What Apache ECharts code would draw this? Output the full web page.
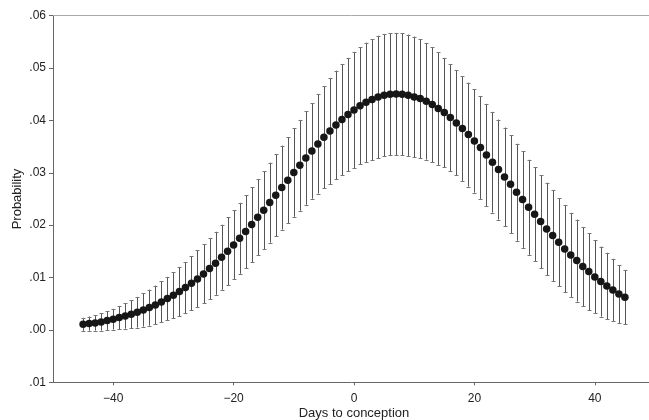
<!DOCTYPE html>
<html>
<head>
<meta charset="utf-8">
<script src="https://cdn.jsdelivr.net/npm/echarts@6/dist/echarts.min.js"></script>
<style>
  html, body { margin: 0; padding: 0; background: #fff; }
  #chart { width: 649px; height: 420px; }
</style>
</head>
<body>
<div id="chart"></div>
<script>
// Days relative to conception (-45 .. 45)
const days = [
  -45,-44,-43,-42,-41,-40,-39,-38,-37,-36,-35,-34,-33,-32,-31,-30,
  -29,-28,-27,-26,-25,-24,-23,-22,-21,-20,-19,-18,-17,-16,-15,-14,
  -13,-12,-11,-10,-9,-8,-7,-6,-5,-4,-3,-2,-1,0,1,2,3,4,5,6,7,8,9,10,
  11,12,13,14,15,16,17,18,19,20,21,22,23,24,25,26,27,28,29,30,31,32,
  33,34,35,36,37,38,39,40,41,42,43,44,45
];

// Estimated probability for each day
const probability = [
  .00108,.00121,.00134,.00153,.00178,.00204,.00235,.00267,.00299,.00337,
  .00382,.00426,.00477,.00535,.00598,.00662,.00732,.00808,.00891,.00974,
  .01069,.01171,.01273,.01388,.01502,.01623,.01750,.01878,.02011,.02151,
  .02285,.02431,.02571,.02718,.02858,.03004,.03144,.03284,.03418,.03552,
  .03679,.03800,.03914,.04016,.04112,.04201,.04280,.04347,.04398,.04449,
  .04481,.04500,.04506,.04500,.04481,.04449,.04417,.04366,.04303,.04226,
  .04150,.04054,.03953,.03844,.03730,.03609,.03482,.03342,.03202,.03062,
  .02922,.02782,.02629,.02489,.02342,.02209,.02069,.01929,.01801,.01674,
  .01547,.01432,.01324,.01209,.01114,.01012,.00923,.00840,.00764,.00687,
  .00624
];

// Lower bound of the interval for each day
const lower = [
  -.00016,-.00013,-.00012,-.00012,.00000,.00007,.00012,.00025,.00032,.00044,
  .00064,.00082,.00108,.00144,.00184,.00220,.00261,.00318,.00372,.00430,
  .00506,.00585,.00672,.00767,.00856,.00964,.01072,.01181,.01298,.01425,
  .01543,.01667,.01788,.01916,.02037,.02161,.02278,.02390,.02505,.02604,
  .02702,.02788,.02877,.02953,.03030,.03093,.03160,.03208,.03246,.03281,
  .03313,.03335,.03341,.03338,.03323,.03297,.03281,.03252,.03205,.03150,
  .03106,.03032,.02951,.02845,.02737,.02622,.02502,.02368,.02241,.02107,
  .01980,.01846,.01703,.01569,.01435,.01308,.01181,.01047,.00935,.00834,
  .00716,.00630,.00541,.00452,.00379,.00315,.00255,.00207,.00169,.00133,
  .00108
];

// Upper bound of the interval for each day
const upper = [
  .00232,.00255,.00280,.00318,.00356,.00401,.00458,.00509,.00566,.00630,
  .00700,.00770,.00846,.00926,.01012,.01104,.01203,.01298,.01410,.01518,
  .01632,.01757,.01874,.02009,.02148,.02282,.02428,.02575,.02724,.02877,
  .03027,.03195,.03354,.03520,.03679,.03847,.04010,.04178,.04331,.04500,
  .04656,.04812,.04951,.05079,.05194,.05309,.05400,.05486,.05550,.05617,
  .05649,.05665,.05671,.05662,.05639,.05601,.05553,.05480,.05401,.05302,
  .05194,.05076,.04955,.04843,.04723,.04596,.04462,.04316,.04163,.04017,
  .03864,.03718,.03555,.03409,.03249,.03110,.02957,.02811,.02667,.02514,
  .02378,.02234,.02107,.01966,.01849,.01709,.01591,.01473,.01359,.01241,
  .01140
];

// Axis ticks and their printed labels
const xTicks = [-40, -20, 0, 20, 40];
const xTickLabels = ['\u221240', '\u221220', '0', '20', '40'];
const yTickLabels = ['.01', '.00', '.01', '.02', '.03', '.04', '.05', '.06'];

const Y_MIN = -0.01, Y_MAX = 0.06, Y_STEP = 0.01;

const points = days.map((d, i) => [d, probability[i]]);
const bars = days.map((d, i) => [d, lower[i], upper[i]]);

const font = 'Liberation Sans, Arial, Helvetica, sans-serif';

const chart = echarts.init(document.getElementById('chart'), null, { renderer: 'canvas' });

chart.setOption({
  animation: false,
  backgroundColor: '#ffffff',
  grid: {
    left: 53, top: 15.7, width: 602, height: 366.6,
    containLabel: false,
    outerBoundsMode: 'none'
  },
  xAxis: [
    {
      type: 'value',
      min: -50,
      max: 50,
      position: 'bottom',
      name: 'Days to conception',
      nameLocation: 'middle',
      nameGap: 25,
      nameMoveOverlap: false,
      nameTextStyle: { fontFamily: font, fontSize: 13, color: '#222' },
      splitLine: { show: false },
      axisLine: { onZero: false, lineStyle: { color: '#666', width: 1 } },
      axisTick: { show: true, customValues: xTicks, length: 3, lineStyle: { color: '#666' } },
      axisLabel: {
        customValues: xTicks,
        margin: 10,
        fontFamily: font, fontSize: 12, color: '#222',
        formatter: v => xTickLabels[xTicks.indexOf(Math.round(v))]
      }
    },
    {
      // light frame line along the top of the plot
      type: 'value',
      min: -50,
      max: 50,
      position: 'top',
      splitLine: { show: false },
      axisLine: { onZero: false, lineStyle: { color: '#aaa', width: 1 } },
      axisTick: { show: false },
      axisLabel: { show: false }
    }
  ],
  yAxis: {
    type: 'value',
    min: Y_MIN,
    max: Y_MAX,
    interval: Y_STEP,
    name: 'Probability',
    nameLocation: 'middle',
    nameGap: 29,
    nameMoveOverlap: false,
    nameTextStyle: { fontFamily: font, fontSize: 13, color: '#222' },
    splitLine: { show: false },
    axisLine: { show: true, onZero: false, lineStyle: { color: '#666', width: 1 } },
    axisTick: { show: true, length: 4, lineStyle: { color: '#666' } },
    axisLabel: {
      margin: 7,
      fontFamily: font, fontSize: 12, color: '#222',
      formatter: v => yTickLabels[Math.round((v - Y_MIN) / Y_STEP)]
    }
  },
  series: [
    {
      type: 'custom',
      xAxisIndex: 0,
      z: 1,
      data: bars,
      encode: { x: 0, y: [1, 2] },
      renderItem: (params, api) => {
        const x = api.value(0);
        const lo = api.coord([x, api.value(1)]);
        const hi = api.coord([x, api.value(2)]);
        const cx = Math.round(lo[0]) + 0.5;
        const half = 2;
        return {
          type: 'group',
          children: [
            { type: 'line', shape: { x1: cx, y1: lo[1], x2: cx, y2: hi[1] }, style: { stroke: '#555', lineWidth: 1 } },
            { type: 'line', shape: { x1: cx - half, y1: Math.round(lo[1]) + 0.5, x2: cx + half, y2: Math.round(lo[1]) + 0.5 }, style: { stroke: '#777', lineWidth: 1 } },
            { type: 'line', shape: { x1: cx - half, y1: Math.round(hi[1]) + 0.5, x2: cx + half, y2: Math.round(hi[1]) + 0.5 }, style: { stroke: '#777', lineWidth: 1 } }
          ]
        };
      }
    },
    {
      type: 'scatter',
      xAxisIndex: 0,
      z: 2,
      symbol: 'circle',
      symbolSize: 7.5,
      itemStyle: { color: '#161616', opacity: 1 },
      emphasis: { disabled: true },
      data: points
    }
  ]
});
</script>
</body>
</html>
